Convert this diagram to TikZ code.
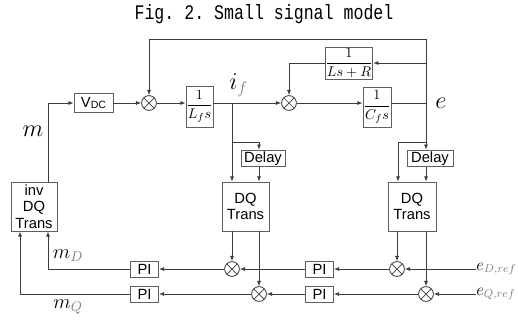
\documentclass[tikz,border=0pt]{standalone}
\usepackage{amsmath}
\usepackage{fontspec}
\setmainfont{Liberation Serif}
\setsansfont{Liberation Sans}
\setmonofont{Liberation Mono}
\usepackage{tikz}
\usetikzlibrary{arrows.meta,calc}
\definecolor{ssline}{RGB}{60,60,60}
\definecolor{ssbox}{RGB}{95,95,95}
\definecolor{sssub}{RGB}{125,125,125}
\tikzset{
  blk/.style={
    draw=ssbox, line width=0.6pt, align=center, inner sep=1pt,
    font=\sffamily\fontsize{10.5}{11.6}\selectfont
  },
  fracblk/.style={blk, inner sep=0pt, font=\fontsize{10}{12}\selectfont},
  sum/.style={
    circle, draw=ssline, line width=0.6pt, minimum size=3.7mm, inner sep=0pt,
    path picture={\draw[ssline, line width=0.5pt]
      (path picture bounding box.north west) -- (path picture bounding box.south east)
      (path picture bounding box.north east) -- (path picture bounding box.south west);}
  },
  arr/.style={-{Latex[length=1.3mm,width=1mm]}, draw=ssline, line width=0.55pt},
  ln/.style={draw=ssline, line width=0.55pt},
  sig/.style={font=\fontsize{17}{19}\selectfont, inner sep=0pt},
  sigsm/.style={font=\fontsize{14}{16}\selectfont, inner sep=0pt},
  sigref/.style={font=\fontsize{12}{14}\selectfont, inner sep=0pt}
}
\begin{document}
\begin{tikzpicture}[x=0.25mm,y=-0.25mm]
  \useasboundingbox (0,0) rectangle (518,320);
  \node[font=\ttfamily\fontsize{11.8}{14}\selectfont] (title) at (264,14)
    {\scalebox{1}[1.25]{Fig. 2. Small signal model}};
  \node[blk, minimum width=9.75mm, minimum height=4.75mm] (vdc) at (93.5,103)
    {V\raisebox{-0.15ex}{\fontsize{7.5}{8}\selectfont DC}};
  \node[fracblk, minimum width=6.75mm, minimum height=10.25mm] (lf) at (199.5,106.5) {$\dfrac{1}{L_f s}$};
  \node[fracblk, minimum width=11.5mm, minimum height=8mm] (lsr) at (349,63) {$\dfrac{1}{Ls+R}$};
  \node[fracblk, minimum width=7mm, minimum height=10mm] (cf) at (377,107) {$\dfrac{1}{C_f s}$};
  \node[blk, minimum width=11mm, minimum height=3.75mm] (d1) at (263,158.5) {Delay};
  \node[blk, minimum width=11.5mm, minimum height=3.75mm] (d2) at (430,158.5) {Delay};
  \node[blk, minimum width=11.75mm, minimum height=12.25mm] (dq1) at (245.5,206.5) {DQ\\Trans};
  \node[blk, minimum width=12mm, minimum height=12.25mm] (dq2) at (412,206.5) {DQ\\Trans};
  \node[blk, minimum width=11.5mm, minimum height=12.25mm] (inv) at (34,206.5) {inv\\DQ\\Trans};
  \foreach \n/\x/\y in {piD2/319.5/269.5, piQ2/319.5/294.5, piD1/144.5/269.5, piQ1/144.5/294.5}
    \node[blk, minimum width=7mm, minimum height=3.9mm] (\n) at (\x,\y) {PI};
  \foreach \n/\x/\y in {s1/149/103, s2/289/103, sD1/232/269, sQ1/259/294, sD2/397/269, sQ2/426/294}
    \node[sum] (\n) at (\x,\y) {};
  \coordinate (jif) at (232,103);
  \coordinate (je) at (426,103);
  \coordinate (tr) at (426,39);
  \coordinate (bf1) at (232,142);
  \coordinate (bf2) at (426,142);
  \node[sig] (lm) at (33,131) {$m$};
  \node[sig, anchor=south west] (lif) at (229,97) {$i_{\color{sssub}f}$};
  \node[sig, anchor=west] (le) at (435,103) {$e$};
  \node[sigsm] (lmD) at (68,256) {$m_{\color{sssub}D}$};
  \node[sigsm] (lmQ) at (68,307) {$m_{\color{sssub}Q}$};
  \node[sigref, anchor=west] (eD) at (476,269) {$e_{\color{sssub}D,ref}$};
  \node[sigref, anchor=west] (eQ) at (476,294) {$e_{\color{sssub}Q,ref}$};

  \draw[arr] ([xshift=3.5mm]inv.north) |- (vdc.west);
  \draw[arr] (vdc) -- (s1);
  \draw[arr] (s1) -- (s1 -| lf.west);
  \draw[ln] (s1 -| lf.east) -- (jif);
  \draw[arr] (jif) -- (s2);
  \draw[arr] (s2) -- (s2 -| cf.west);
  \draw[ln] (s2 -| cf.east) -- (je);
  \draw[arr] (je) -- (tr) -| (s1.north);
  \draw[arr] (je |- lsr) -- (lsr.east);
  \draw[arr] (lsr.west) -| (s2.north);
  \draw[arr] (je) -- (je |- d2.north);
  \draw[arr] (bf2) -| ([xshift=-3.5mm]dq2.north);
  \draw[arr] ([xshift=-1mm]d2.south) -- ([xshift=-1mm]d2.south |- dq2.north);
  \draw[arr] (jif) -- (jif |- dq1.north);
  \draw[arr] (bf1) -| ([xshift=-1mm]d1.north);
  \draw[arr] ([xshift=-1mm]d1.south) -- ([xshift=-1mm]d1.south |- dq1.north);
  \draw[arr] (sD1 |- dq1.south) -- (sD1);
  \draw[arr] (sQ1 |- dq1.south) -- (sQ1);
  \draw[arr] (sD2 |- dq2.south) -- (sD2);
  \draw[arr] (sQ2 |- dq2.south) -- (sQ2);
  \draw[arr] (sD2 -| eD.west) -- (sD2);
  \draw[arr] (sD2) -- (sD2 -| piD2.east);
  \draw[arr] (sD1 -| piD2.west) -- (sD1);
  \draw[arr] (sD1) -- (sD1 -| piD1.east);
  \draw[arr] (piD1.west) -| ([xshift=3.5mm]inv.south);
  \draw[arr] (sQ2 -| eQ.west) -- (sQ2);
  \draw[arr] (sQ2) -- (sQ2 -| piQ2.east);
  \draw[arr] (sQ1 -| piQ2.west) -- (sQ1);
  \draw[arr] (sQ1) -- (sQ1 -| piQ1.east);
  \draw[arr] (piQ1.west) -| ([xshift=-3.5mm]inv.south);
\end{tikzpicture}
\end{document}
